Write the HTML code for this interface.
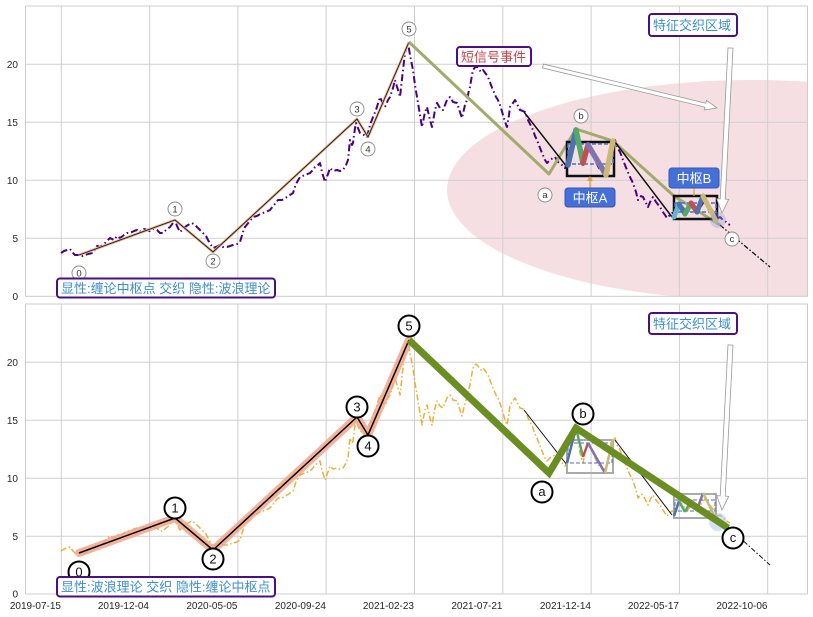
<!DOCTYPE html>
<html><head><meta charset="utf-8"><style>
html,body{margin:0;padding:0;background:#fff;}
svg{display:block;}
text{font-family:"Liberation Sans","Noto Sans CJK SC",sans-serif;}
</style></head><body>
<svg width="813" height="617" viewBox="0 0 813 617" xmlns="http://www.w3.org/2000/svg">
<defs>
<clipPath id="c1"><rect x="25.5" y="6" width="782" height="290.3"/></clipPath>
<clipPath id="c2"><rect x="25.5" y="304" width="782" height="290"/></clipPath>
</defs>
<rect width="813" height="617" fill="#fff"/>

<!-- ============ TOP AXES ============ -->
<rect x="25.5" y="6" width="782" height="290.3" fill="#fff"/>
<g clip-path="url(#c1)">
<ellipse cx="752" cy="190" rx="305" ry="110" fill="rgb(222,150,160)" fill-opacity="0.3"/>
</g>
<g stroke="#cfcfcf" stroke-width="1">
<line x1="61.3" y1="6" x2="61.3" y2="296.3"/><line x1="149.6" y1="6" x2="149.6" y2="296.3"/><line x1="237.9" y1="6" x2="237.9" y2="296.3"/><line x1="326.2" y1="6" x2="326.2" y2="296.3"/><line x1="414.5" y1="6" x2="414.5" y2="296.3"/><line x1="502.8" y1="6" x2="502.8" y2="296.3"/><line x1="591.1" y1="6" x2="591.1" y2="296.3"/><line x1="679.4" y1="6" x2="679.4" y2="296.3"/><line x1="767.7" y1="6" x2="767.7" y2="296.3"/>
<line x1="25.5" y1="238.3" x2="807.5" y2="238.3"/><line x1="25.5" y1="180.3" x2="807.5" y2="180.3"/><line x1="25.5" y1="122.3" x2="807.5" y2="122.3"/><line x1="25.5" y1="64.3" x2="807.5" y2="64.3"/>
</g>
<rect x="25.5" y="6" width="782" height="290.3" fill="none" stroke="#cccccc" stroke-width="1"/>
<g font-size="10" fill="#262626" text-anchor="end">
<text x="18" y="299.8">0</text><text x="18" y="241.8">5</text><text x="18" y="183.8">10</text><text x="18" y="125.8">15</text><text x="18" y="67.8">20</text>
</g>

<g clip-path="url(#c1)">
<polyline fill="none" stroke="#4b0082" stroke-width="2" stroke-dasharray="7,3,1.5,3" stroke-linejoin="round" points="61,253 64,251 67,250 70,249 73,253 75,255 79,255 83,256 88,254 93,253 97,246 100,247 103,245 107,241 110,238 114,240 117,236 120,238 124,235 127,233 130,233 134,231 137,230 140,232 144,229 147,230 150,231 153,229 157,230 160,233 163,233 166,230 170,227 173,223 175,220 177,226 180,232 183,229 185,227 188,225 192,223 195,225 197,227 200,230 203,233 206,236 208,240 211,245 213,248 216,247 220,245 223,247 227,247 230,246 233,245 237,244 240,242 243,232 245,227 249,222 253,217 257,216 260,214 263,213 266,212 270,210 274,205 278,200 282,200 287,197 290,195 293,193 296,184 300,177 305,175 310,173 313,170 315,167 318,165 320,163 322,172 325,182 328,174 330,168 333,171 337,170 340,171 343,170 346,165 348,160 350,140 352,145 353,143 355,128 356,123 358,128 360,133 364,135 367,137 370,125 373,117 376,110 380,97 383,104 385,107 388,100 390,97 393,88 395,80 398,90 400,97 403,70 405,53 408,43 410,55 413,70 415,85 417,97 420,115 422,127 425,112 427,107 430,120 432,127 435,110 437,103 440,108 443,110 447,100 450,97 453,102 457,103 460,112 462,118 465,105 467,100 469,90 470,87 472,75 473,70 476,66 478,68 481,72 483,70 486,74 488,77 491,85 493,90 496,97 498,100 501,108 503,115 505,122 507,127 509,115 510,107 513,103 515,100 518,106 520,110 523,111 525,112 527,117 528,120 531,126 533,130 535,136 537,140 540,148 542,153 545,160 547,163 550,160 553,158 555,157 558,162 562,165 565,168 568,162 571,145 574,135 576,130 578,140 580,155 583,165 585,155 588,145 591,150 595,160 599,168 603,172 606,170 609,155 612,142 615,140 617,147 620,152 623,160 627,170 630,177 633,183 636,192 638,200 641,196 643,197 646,203 648,207 651,200 653,197 656,202 660,207 663,212 667,218 670,215 672,213 675,214 678,210 681,205 684,209 688,212 691,207 694,205 697,209 700,208 703,203 706,200 709,206 712,210 715,214 718,218 720,217 723,220 726,222 728,224 730,225"/>

<!-- wave 0-5 -->
<polyline fill="none" stroke="#e4b390" stroke-width="2.6" stroke-linejoin="round" points="79,255 175,220 213,252 357,119 368,137 409,42"/>
<polyline fill="none" stroke="#2a1a10" stroke-width="0.9" points="79,255 175,220 213,252 357,119 368,137 409,42"/>
<!-- olive abc -->
<polyline fill="none" stroke="#a2aa6c" stroke-width="3" stroke-linejoin="round" points="409,42 549,174 576,129 613,141 674,196 720,225"/>
<!-- black segments -->
<line x1="524" y1="112" x2="567" y2="167" stroke="#111" stroke-width="1.5"/>
<line x1="615" y1="142" x2="672" y2="217" stroke="#111" stroke-width="1.5"/>
<line x1="720" y1="225" x2="770" y2="267" stroke="#111" stroke-width="1.3" stroke-dasharray="5,2,1.5,2"/>

<!-- zone A -->
<rect x="567" y="142" width="47" height="34" fill="none" stroke="#111" stroke-width="2.5"/>
<rect x="568" y="144" width="45" height="20" fill="none" stroke="#4a6fd0" stroke-width="1.5" stroke-dasharray="4,2"/>
<g stroke-width="5.5" stroke-linecap="round" fill="none">
<line x1="568" y1="165" x2="576" y2="130" stroke="#4c72b0"/>
<line x1="576" y1="130" x2="583" y2="163" stroke="#55a868"/>
<line x1="583" y1="163" x2="588" y2="145" stroke="#c44e52"/>
<line x1="588" y1="145" x2="606" y2="175" stroke="#8172b2"/>
<line x1="606" y1="175" x2="613" y2="141" stroke="#ccb974"/>
</g>
<!-- zone B -->
<rect x="674" y="196" width="43" height="23" fill="none" stroke="#111" stroke-width="2.5"/>
<rect x="675" y="203" width="41" height="9" fill="none" stroke="#4a6fd0" stroke-width="1.5" stroke-dasharray="4,2"/>
<g stroke-width="5" stroke-linecap="round" fill="none">
<line x1="674" y1="217" x2="679" y2="204" stroke="#64b5cd"/>
<line x1="679" y1="204" x2="685" y2="214" stroke="#4c72b0"/>
<line x1="685" y1="214" x2="691" y2="203" stroke="#55a868"/>
<line x1="691" y1="203" x2="697" y2="212" stroke="#c44e52"/>
<line x1="697" y1="212" x2="703" y2="196" stroke="#4c72b0"/>
<line x1="703" y1="196" x2="716" y2="221" stroke="#ccb974"/>
</g>
<circle cx="718" cy="220" r="8" fill="#8aa8d8" fill-opacity="0.35"/>
</g>

<!-- zone labels -->
<line x1="590" y1="188" x2="590" y2="178" stroke="#e0a040" stroke-width="1.2"/>
<polygon points="587,181 593,181 590,176" fill="#e0a040"/>
<rect x="565" y="188" width="50" height="19" rx="3" fill="#4470d8" stroke="#3358b8" stroke-width="1"/>
<text x="590" y="202.5" font-size="13" fill="#fff" text-anchor="middle">中枢A</text>
<line x1="694" y1="188" x2="694" y2="196" stroke="#e0a040" stroke-width="1.2"/>
<rect x="669" y="168" width="50" height="20" rx="3" fill="#4470d8" stroke="#3358b8" stroke-width="1"/>
<text x="694" y="183" font-size="13" fill="#fff" text-anchor="middle">中枢B</text>

<!-- circles top -->
<g fill="#fff" stroke="#8a8a8a" stroke-width="0.9">
<circle cx="79" cy="273" r="7"/><circle cx="175" cy="209" r="7"/><circle cx="213" cy="261" r="7"/><circle cx="357" cy="109" r="7"/><circle cx="368" cy="149" r="7"/><circle cx="409" cy="29" r="7"/><circle cx="545" cy="195" r="7"/><circle cx="581" cy="116" r="7"/><circle cx="732" cy="239" r="7"/>
</g>
<g font-size="9.5" fill="#333" text-anchor="middle">
<text x="79" y="276.5">0</text><text x="175" y="212.5">1</text><text x="213" y="264.5">2</text><text x="357" y="112.5">3</text><text x="368" y="152.5">4</text><text x="409" y="32.5">5</text><text x="545" y="198">a</text><text x="581" y="119">b</text><text x="732" y="242">c</text>
</g>

<!-- arrows top -->
<polygon points="543.47,64.06 705.81,103.24 706.52,100.32 717,108 704.17,110.04 704.87,107.12 542.53,67.94" fill="#fff" stroke="#999" stroke-width="0.8"/>
<polygon points="728,47.87 733,48.13 725.22,199.15 728.71,199.33 722,213 716.73,198.71 720.22,198.89" fill="#fff" stroke="#999" stroke-width="0.8"/>

<!-- text boxes top -->
<rect x="457" y="47" width="74" height="19" rx="3" fill="#fff" stroke="#4b0f80" stroke-width="2"/>
<text x="461" y="61.5" font-size="13" fill="#c8434a">短信号事件</text>
<rect x="649" y="14" width="88" height="22" rx="3" fill="#fff" stroke="#4b0f80" stroke-width="2"/>
<text x="653" y="30" font-size="13" fill="#3b8fd0">特征交织区域</text>
<rect x="57" y="278.5" width="218" height="19" rx="3" fill="#fff" stroke="#4b0f80" stroke-width="2"/>
<text x="61" y="293" font-size="13" fill="#3b8fd0">显性:缠论中枢点 交织 隐性:波浪理论</text>

<!-- ============ BOTTOM AXES ============ -->
<rect x="25.5" y="304" width="782" height="290" fill="#fff"/>
<g stroke="#cfcfcf" stroke-width="1">
<line x1="61.3" y1="304" x2="61.3" y2="594"/><line x1="149.6" y1="304" x2="149.6" y2="594"/><line x1="237.9" y1="304" x2="237.9" y2="594"/><line x1="326.2" y1="304" x2="326.2" y2="594"/><line x1="414.5" y1="304" x2="414.5" y2="594"/><line x1="502.8" y1="304" x2="502.8" y2="594"/><line x1="591.1" y1="304" x2="591.1" y2="594"/><line x1="679.4" y1="304" x2="679.4" y2="594"/><line x1="767.7" y1="304" x2="767.7" y2="594"/>
<line x1="25.5" y1="536.3" x2="807.5" y2="536.3"/><line x1="25.5" y1="478.3" x2="807.5" y2="478.3"/><line x1="25.5" y1="420.3" x2="807.5" y2="420.3"/><line x1="25.5" y1="362.3" x2="807.5" y2="362.3"/>
</g>
<rect x="25.5" y="304" width="782" height="290" fill="none" stroke="#cccccc" stroke-width="1"/>
<g font-size="10" fill="#262626" text-anchor="end">
<text x="18" y="597.5">0</text><text x="18" y="539.8">5</text><text x="18" y="481.8">10</text><text x="18" y="423.8">15</text><text x="18" y="365.8">20</text>
</g>
<g font-size="10" fill="#262626" text-anchor="end">
<text x="61" y="609">2019-07-15</text><text x="149" y="609">2019-12-04</text><text x="237.5" y="609">2020-05-05</text><text x="326" y="609">2020-09-24</text><text x="414" y="609">2021-02-23</text><text x="502.5" y="609">2021-07-21</text><text x="591" y="609">2021-12-14</text><text x="679" y="609">2022-05-17</text><text x="767.5" y="609">2022-10-06</text>
</g>

<g clip-path="url(#c2)">
<g transform="translate(0,298)">
<polyline fill="none" stroke="#efae35" stroke-width="1.5" stroke-dasharray="6,2.5,1.5,2.5" stroke-linejoin="round" points="61,253 64,251 67,250 70,249 73,253 75,255 79,255 83,256 88,254 93,253 97,246 100,247 103,245 107,241 110,238 114,240 117,236 120,238 124,235 127,233 130,233 134,231 137,230 140,232 144,229 147,230 150,231 153,229 157,230 160,233 163,233 166,230 170,227 173,223 175,220 177,226 180,232 183,229 185,227 188,225 192,223 195,225 197,227 200,230 203,233 206,236 208,240 211,245 213,248 216,247 220,245 223,247 227,247 230,246 233,245 237,244 240,242 243,232 245,227 249,222 253,217 257,216 260,214 263,213 266,212 270,210 274,205 278,200 282,200 287,197 290,195 293,193 296,184 300,177 305,175 310,173 313,170 315,167 318,165 320,163 322,172 325,182 328,174 330,168 333,171 337,170 340,171 343,170 346,165 348,160 350,140 352,145 353,143 355,128 356,123 358,128 360,133 364,135 367,137 370,125 373,117 376,110 380,97 383,104 385,107 388,100 390,97 393,88 395,80 398,90 400,97 403,70 405,53 408,43 410,55 413,70 415,85 417,97 420,115 422,127 425,112 427,107 430,120 432,127 435,110 437,103 440,108 443,110 447,100 450,97 453,102 457,103 460,112 462,118 465,105 467,100 469,90 470,87 472,75 473,70 476,66 478,68 481,72 483,70 486,74 488,77 491,85 493,90 496,97 498,100 501,108 503,115 505,122 507,127 509,115 510,107 513,103 515,100 518,106 520,110 523,111 525,112 527,117 528,120 531,126 533,130 535,136 537,140 540,148 542,153 545,160 547,163 550,160 553,158 555,157 558,162 562,165 565,168 568,162 571,145 574,135 576,130 578,140 580,155 583,165 585,155 588,145 591,150 595,160 599,168 603,172 606,170 609,155 612,142 615,140 617,147 620,152 623,160 627,170 630,177 633,183 636,192 638,200 641,196 643,197 646,203 648,207 651,200 653,197 656,202 660,207 663,212 667,218 670,215 672,213 675,214 678,210 681,205 684,209 688,212 691,207 694,205 697,209 700,208 703,203 706,200 709,206 712,210 715,214 718,218 720,217 723,220 726,222 728,224 730,225"/>
</g>
<!-- salmon band + black wave -->
<polyline fill="none" stroke="#f2a58c" stroke-opacity="0.85" stroke-width="8" stroke-linejoin="round" stroke-linecap="round" points="79,553 175,518 213,550 357,417 368,435 409,340"/>
<polyline fill="none" stroke="#000" stroke-width="1.5" points="79,553 175,518 213,550 357,417 368,435 409,340"/>
<!-- black thin -->
<line x1="524" y1="410" x2="567" y2="465" stroke="#111" stroke-width="1"/>
<line x1="615" y1="440" x2="672" y2="515" stroke="#111" stroke-width="1"/>
<line x1="728" y1="527" x2="770" y2="565" stroke="#111" stroke-width="1" stroke-dasharray="5,2,1.5,2"/>
<!-- zones bottom -->
<rect x="567" y="440" width="46" height="33" fill="none" stroke="#aaa" stroke-width="2"/>
<rect x="568" y="443" width="44" height="20" fill="none" stroke="#4a6fd0" stroke-width="1" stroke-dasharray="4,2"/>
<g stroke-width="2.5" fill="none">
<line x1="567" y1="463" x2="576" y2="428" stroke="#4c72b0"/>
<line x1="576" y1="428" x2="583" y2="457" stroke="#55a868"/>
<line x1="583" y1="457" x2="588" y2="443" stroke="#c44e52"/>
<line x1="588" y1="443" x2="605" y2="473" stroke="#8172b2"/>
<line x1="605" y1="473" x2="613" y2="439" stroke="#ccb974"/>
</g>
<rect x="674" y="494" width="42" height="24" fill="none" stroke="#aaa" stroke-width="2"/>
<rect x="675" y="500" width="40" height="11" fill="none" stroke="#4a6fd0" stroke-width="1" stroke-dasharray="4,2"/>
<g stroke-width="2.5" fill="none">
<line x1="674" y1="516" x2="679" y2="501" stroke="#4c72b0"/>
<line x1="679" y1="501" x2="685" y2="512" stroke="#55a868"/>
<line x1="685" y1="512" x2="691" y2="500" stroke="#55a868"/>
<line x1="691" y1="500" x2="697" y2="510" stroke="#c44e52"/>
<line x1="697" y1="510" x2="703" y2="493" stroke="#8172b2"/>
<line x1="703" y1="493" x2="716" y2="519" stroke="#ccb974"/>
</g>
<circle cx="718" cy="522" r="9" fill="#9cc0ee" fill-opacity="0.45"/>
<!-- green abc -->
<polyline fill="none" stroke="#6b8e23" stroke-width="7" stroke-linejoin="miter" points="409,340 549,473 576,428 728,528"/>
</g>

<!-- circles bottom -->
<g fill="#fff" stroke="#000" stroke-width="2">
<circle cx="79" cy="572" r="10.5"/><circle cx="175" cy="508" r="10.5"/><circle cx="213" cy="559" r="10.5"/><circle cx="357" cy="407" r="10.5"/><circle cx="368" cy="446" r="10.5"/><circle cx="409" cy="326" r="10.5"/><circle cx="542" cy="492" r="10.5"/><circle cx="583" cy="414" r="10.5"/><circle cx="733" cy="538" r="10.5"/>
</g>
<g font-size="13" fill="#111" text-anchor="middle">
<text x="79" y="576.7">0</text><text x="175" y="512.7">1</text><text x="213" y="563.7">2</text><text x="357" y="411.7">3</text><text x="368" y="450.7">4</text><text x="409" y="330.7">5</text><text x="542" y="496">a</text><text x="583" y="418">b</text><text x="733" y="542">c</text>
</g>

<!-- arrow bottom -->
<g transform="translate(0,297)">
<polygon points="728,47.87 733,48.13 725.22,199.15 728.71,199.33 722,213 716.73,198.71 720.22,198.89" fill="#fff" stroke="#999" stroke-width="0.8"/>
</g>

<!-- text boxes bottom -->
<rect x="649" y="313" width="88" height="21" rx="3" fill="#fff" stroke="#4b0f80" stroke-width="2"/>
<text x="653" y="328.5" font-size="13" fill="#3b8fd0">特征交织区域</text>
<rect x="57" y="577" width="218" height="19.5" rx="3" fill="#fff" stroke="#4b0f80" stroke-width="2"/>
<text x="61" y="591.5" font-size="13" fill="#3b8fd0">显性:波浪理论 交织 隐性:缠论中枢点</text>
</svg>
</body></html>
